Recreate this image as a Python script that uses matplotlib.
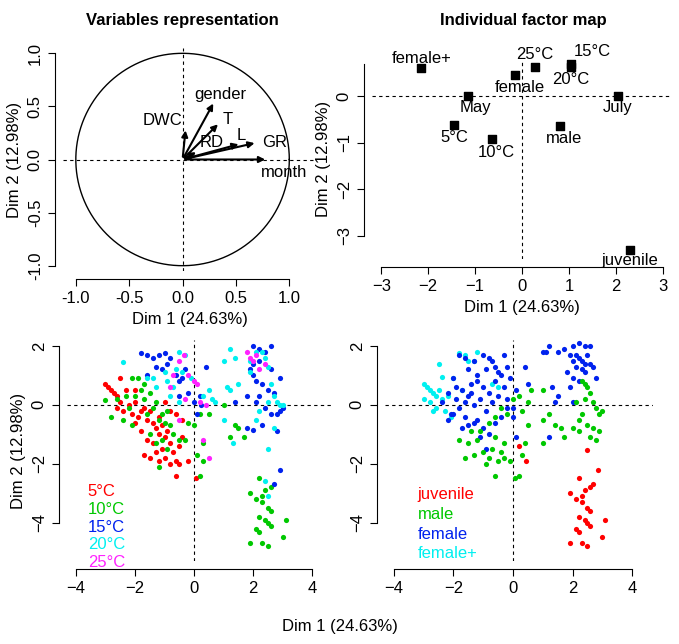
import matplotlib
matplotlib.use("Agg")
import matplotlib.pyplot as plt
import numpy as np

plt.rcParams['font.family'] = ['Liberation Sans', 'DejaVu Sans']

# ---- variables (correlation circle)
var_names = ["gender", "T", "DWC", "RD", "L", "GR", "month"]
var_x = [0.30, 0.35, 0.03, 0.15, 0.55, 0.70, 0.80]
var_y = [0.55, 0.35, 0.30, 0.08, 0.15, 0.16, 0.00]

# ---- category centres
cat_names = ["female+", "May", "5°C", "10°C", "female", "25°C", "15°C", "20°C", "male", "July", "juvenile"]
cat_x = [-2.15, -1.15, -1.45, -0.65, -0.15, 0.28, 1.05, 1.05, 0.80, 2.05, 2.30]
cat_y = [0.60, 0.00, -0.62, -0.92, 0.45, 0.62, 0.70, 0.62, -0.65, 0.00, -3.30]

# ---- individuals by temperature
t5 = [(-3,0.7),(-2.9,0.6),(-2.8,0.5),(-2.7,0.4),(-2.6,0.3),(-2.5,0.1),(-2.4,-0.2),(-2.2,0),(-2.1,-0.3),(-2,0.1),(-1.9,-0.4),(-1.8,-0.2),(-1.7,-0.1),(-1.6,-0.5),(-1.5,-0.2),(-1.4,-0.6),(-1.3,-0.8),(-1.2,-1),(-1.1,-0.7),(-1,-1.1),(-0.9,-0.9),(-0.8,-1.3),(-1.1,-1.5),(-1.3,-1.6),(-1.5,-1.8),(-1.7,-1.7),(-1.2,-1.9),(-1,-1.8),(-0.8,-2),(-0.6,-1.9),(-0.5,-2),(-0.6,-2.4),(-0.7,-1.6),(-0.5,-1.4),(-0.4,-1.1),(-0.4,-0.5),(-0.6,-0.3),(-0.8,-0.2),(-1.0,0.1),(-2.3,0.5),(-2.5,0.9),(-2.0,0.5),(-1.6,-1.2),(-1.4,-1.3),(-0.2,-1.9),(0.05,-2.5),(-2.6,-0.1),(-2.0,-0.6),(-1.8,-0.9),(-1.2,-0.4)]
t10 = [(-3,0.15),(-2.8,-0.4),(-2.6,0.2),(-2.4,-0.5),(-2.3,0.3),(-2.2,-0.1),(-2.1,-0.7),(-2,0.3),(-1.9,0.9),(-1.8,0.5),(-1.7,0.2),(-1.6,-0.3),(-1.5,0.4),(-1.4,-0.1),(-1.3,0.1),(-1.2,-0.5),(-1.1,-0.3),(-1,-0.6),(-0.9,-0.2),(-0.8,-0.7),(-1.5,-1.0),(-1.3,-1.3),(-1.1,-1.2),(-0.9,-1.5),(-0.7,-1.0),(-0.5,-1.2),(-0.3,-1.2),(-0.2,-0.6),(0,-0.7),(0.2,-0.3),(0.3,-1.3),(0.5,-0.3),(0.3,-1.9),(0.1,-1.7),(0.2,-2.4),(-1.2,-2.1),(-2.1,0.9),(-1.7,0.7),(1.4,-0.7),(1.5,-0.8),(1.7,-1.1),(1.2,-1.1),(1.0,0),(1.9,-3.0),(2.1,-3.2),(2.2,-2.5),(2.3,-3.1),(2.4,-2.9),(2.5,-3.5),(2.6,-2.8),(2.2,-3.8),(2.4,-3.9),(2.6,-4.1),(2.1,-4.2),(2.2,-4.3),(1.9,-4.7),(2.3,-4.7),(2.5,-4.8),(3.0,-4.5),(3.1,-3.9),(2.5,-4.0),(2.3,-3.3),(2.6,-3.6)]
t15 = [(-1.8,1.75),(-1.6,1.7),(-1.4,1.6),(-1.2,1.7),(-1.0,1.75),(-0.8,1.6),(-1.3,1.3),(-1.1,1.2),(-0.9,1.4),(-0.6,1.0),(-0.5,0.8),(-0.4,0.9),(-0.3,1.2),(-0.5,0.3),(-0.2,0.4),(0,0.1),(0.2,0.3),(0.4,1.3),(0.1,-0.3),(0.25,0),(-1.6,1.0),(2.0,2.0),(2.2,1.9),(2.4,1.8),(2.6,2.0),(1.9,1.2),(2.0,1.0),(2.1,0.8),(2.3,0.7),(2.5,0.5),(2.7,0.4),(2.9,0.9),(2.8,-0.3),(2.9,-0.2),(3.0,-0.1),(2.2,0.3),(2.4,-0.1),(2.6,-0.3),(1.8,-0.8),(2.0,-0.85),(2.3,-0.7),(2.8,-0.9),(2.1,0.1),(2.6,1.2),(2.2,1.5),(2.0,1.4),(1.4,0.1),(2.9,-2.2),(2.7,-2.7),(1.8,0.3)]
t20 = [(-2.4,1.45),(-1.6,0.9),(-1.4,0.9),(-1.0,1.1),(-0.9,0.8),(-0.7,0.6),(-0.5,1.8),(-0.3,1.7),(-0.6,1.2),(-0.4,1.1),(-0.8,0.3),(-0.5,0.1),(-1.3,0.6),(-0.1,0.9),(0.5,0.5),(0.6,0.2),(0.3,0.3),(1.2,1.9),(1.4,1.6),(1.0,1.5),(1.5,0.7),(1.1,0.6),(1.2,0.5),(1.9,1.1),(2.1,1.8),(2.3,1.8),(2.4,1.6),(2.5,1.3),(2.6,0.7),(2.7,0.3),(2.8,0.1),(2.9,0),(3.0,0.0),(2.5,0.1),(2.2,-0.2),(2.1,-0.5),(2.5,-1.5),(2.7,-0.8),(1.3,-1.3),(1.0,-0.5),(2.4,-2.6),(2.5,-3.1),(1.9,1.5),(0.7,0.1)]
t25 = [(-0.35,1.7),(-0.5,1.5),(-0.7,1.0),(-0.2,1.0),(0.0,0.8),(0.1,0.7),(0.2,0.1),(-0.3,0.2),(-0.5,-0.5),(0.3,-1.2),(0.5,-1.8),(-0.8,0.6),(1.8,1.8),(2.0,1.5),(1.9,1.6),(2.2,1.2),(2.4,1.4),(2.1,1.7),(0.4,0.0)]
temp_labels = ["5°C", "10°C", "15°C", "20°C", "25°C"]

# ---- individuals by sex
juvenile = [(1.9,-3.0),(2.1,-3.2),(2.2,-2.5),(2.3,-3.1),(2.4,-2.9),(2.5,-3.5),(2.6,-2.8),(2.2,-3.8),(2.4,-3.9),(2.6,-4.1),(2.1,-4.2),(2.2,-4.3),(1.9,-4.7),(2.3,-4.7),(2.5,-4.8),(3.0,-4.5),(3.1,-3.9),(2.5,-4.0),(2.3,-3.3),(2.6,-3.6),(0.2,-1.4),(0.45,-1.9),(2.5,-1.55),(2.85,-2.2),(2.7,-2.7)]
male = [(-1.6,-1.8),(-1.5,-1.3),(-1.3,-1.7),(-1.2,-1.2),(-1.0,-1.6),(-0.9,-2.0),(-0.8,-1.8),(-0.7,-1.5),(-0.6,-2.4),(-0.5,-1.9),(-0.4,-1.6),(-0.3,-1.8),(-0.6,-1.1),(-0.3,-1.3),(-0.1,-1.9),(0.05,-2.5),(0.2,-2.4),(0.3,-1.7),(0.4,-1.3),(0.5,-0.7),(0.3,-0.2),(0.5,0.1),(0.6,0.5),(0.2,0.3),(0,0.2),(-0.2,-0.3),(-0.4,-0.1),(-0.6,-0.4),(-0.8,-0.6),(-1.1,-0.9),(1.0,0.5),(1.0,-0.5),(1.2,-0.3),(1.4,-0.7),(1.6,-0.8),(1.7,-1.1),(2.0,-0.8),(2.2,-0.9),(2.5,-0.7),(2.7,-0.8),(2.9,-0.9),(2.8,-1.2),(2.6,-1.1),(2.1,0.1),(2.3,-0.3),(2.4,0.2),(2.5,0.6),(2.6,0.4),(2.7,0.1),(2.8,-0.1),(2.9,-0.3),(3.0,-0.2),(2.2,-0.5),(2.4,0.7),(2.3,0.8),(1.0,-1.3),(-1.4,-0.9),(-1.8,-1.2)]
female = [(-2.4,0.1),(-2.2,0.4),(-2.1,-0.3),(-2.0,0.9),(-1.9,0.2),(-1.8,-0.1),(-1.7,0.5),(-1.6,-0.4),(-1.5,0.3),(-1.4,0.7),(-1.3,0.0),(-1.2,-0.5),(-1.1,0.2),(-1.0,0.6),(-0.9,-0.2),(-0.8,0.4),(-0.7,0.1),(-0.6,0.8),(-0.5,0.3),(-0.4,1.0),(-0.3,0.6),(-0.2,0.2),(-0.1,0.9),(0.0,-0.1),(-1.8,1.7),(-1.6,1.6),(-1.3,1.5),(-1.0,1.7),(-0.8,1.6),(-0.6,1.3),(-0.3,1.7),(-0.2,1.3),(-1.5,1.2),(-1.2,1.0),(-0.9,1.2),(-1.7,-0.8),(-1.5,-0.7),(-1.3,-0.6),(-1.1,-1.1),(-1.0,-0.8),(-0.9,-1.5),(-0.8,-1.0),(-0.6,-0.6),(-2.2,-0.5),(-2.0,-0.3),(-1.9,0.6),(-1.4,0.4),(-1.2,0.8),(-0.7,1.5),(-0.5,1.1),(-0.4,-0.4),(0.1,-1.1),(0.0,-0.4),(1.0,1.8),(1.2,2.0),(1.5,1.8),(1.7,1.9),(2.0,2.0),(2.2,2.1),(2.4,2.0),(2.6,2.0),(1.9,1.7),(2.0,1.5),(2.1,1.3),(2.2,1.6),(2.3,1.5),(2.4,1.4),(2.5,1.7),(2.6,1.4),(2.7,1.3),(1.8,1.1),(2.0,0.9),(2.2,0.8),(2.4,1.1),(2.8,0.9),(2.1,1.7),(2.3,1.2),(1.9,0.6),(1.5,0.3),(1.3,0.6),(1.1,1.8),(1.4,0.1),(2.0,0.1),(1.2,-1.1),(0.5,0.7),(0.4,1.3),(0.1,0.5),(-1.6,0.1),(-0.2,-0.1)]
female_plus = [(-3.0,0.7),(-2.9,0.6),(-2.8,0.5),(-2.7,0.4),(-2.6,0.3),(-3.0,0.2),(-2.8,0.1),(-2.6,-0.1),(-2.5,0.5),(-2.4,0.2),(-2.3,-0.2),(-2.2,0.3),(-2.1,-0.4),(-2.5,1.4),(-2.4,0.95),(-2.0,0.9),(-1.8,1.75),(-1.6,1.7),(-1.5,1.5),(-1.3,1.5),(-1.2,1.8),(-2.7,-0.2),(-0.7,0.7),(-0.5,0.6),(-1.7,0.5)]
sex_labels = ["juvenile", "male", "female", "female+"]

RED, GREEN, BLUE, CYAN, MAG = "#ff0000", "#00c800", "#0022ee", "#00f0f0", "#ff22ff"
FS = 12
PS = 14

fig = plt.figure(figsize=(6.79, 6.44), dpi=100)
W, H = 679, 644
def axes_px(l, t, r, b):
    return fig.add_axes([l / W, 1 - b / H, (r - l) / W, (b - t) / H])

def style(ax, xb, yb, xt, yt, fmt=None):
    for s in ["top", "right"]:
        ax.spines[s].set_visible(False)
    ax.spines["bottom"].set_bounds(*xb)
    ax.spines["left"].set_bounds(*yb)
    ax.spines["bottom"].set_position(("outward", 6))
    ax.spines["left"].set_position(("outward", 6))
    ax.set_xticks(xt); ax.set_yticks(yt)
    if fmt:
        ax.set_xticklabels([fmt % v for v in xt]); ax.set_yticklabels([fmt % v for v in yt])
    ax.tick_params(labelsize=FS, length=5)
    for lab in ax.get_yticklabels():
        lab.set_rotation(90); lab.set_va("center")
    ax.patch.set_visible(False)

# Top-left
ax1 = axes_px(63, 48, 316, 271)
ax1.set_xlim(-1.12, 1.25); ax1.set_ylim(-1.05, 1.05)
th = np.linspace(0, 2 * np.pi, 400)
ax1.plot(np.cos(th), np.sin(th), color="black", lw=1)
ax1.axhline(0, ls=(0, (3, 3)), color="black", lw=0.8)
ax1.axvline(0, ls=(0, (3, 3)), color="black", lw=0.8)
for x, y in zip(var_x, var_y):
    ax1.annotate("", xy=(x, y), xytext=(0, 0),
                 arrowprops=dict(arrowstyle="-|>", color="black", lw=1.5, mutation_scale=9))
lab_off = {"gender": (0.05, 0.06, "center"), "T": (0.07, 0.03, "center"), "DWC": (-0.03, 0.07, "right"),
           "RD": (0.12, 0.08, "center"), "L": (0.0, 0.08, "center"), "GR": (0.05, 0.0, "left"),
           "month": (0.15, -0.12, "center")}
for n, x, y in zip(var_names, var_x, var_y):
    dx, dy, ha = lab_off[n]
    ax1.text(x + dx, y + dy, n, fontsize=FS, ha=ha, va="center")
style(ax1, (-1, 1), (-1, 1), [-1, -0.5, 0, 0.5, 1], [-1, -0.5, 0, 0.5, 1], "%.1f")
ax1.set_xlabel("Dim 1 (24.63%)", fontsize=FS)
ax1.set_ylabel("Dim 2 (12.98%)", fontsize=FS)

# Top-right
ax2 = axes_px(372, 59, 672, 259)
ax2.set_xlim(-3.2, 3.2); ax2.set_ylim(-3.5, 0.8)
ax2.axhline(0, ls=(0, (3, 3)), color="black", lw=0.8)
ax2.axvline(0, ls=(0, (3, 3)), color="black", lw=0.8)
ax2.scatter(cat_x, cat_y, marker="s", s=40, color="black", zorder=3)
coff = {"female+": (0, 0.22), "May": (0.15, -0.25), "5°C": (0, -0.27), "10°C": (0.1, -0.28),
        "female": (0.1, -0.27), "25°C": (0.0, 0.27), "15°C": (0.45, 0.27), "20°C": (0.0, -0.27),
        "male": (0.1, -0.25), "July": (0.0, -0.25), "juvenile": (0.0, -0.24)}
for n, x, y in zip(cat_names, cat_x, cat_y):
    dx, dy = coff[n]
    ax2.text(x + dx, y + dy, n, fontsize=FS, ha="center", va="center")
style(ax2, (-3, 3), (-3, 0.7), [-3, -2, -1, 0, 1, 2, 3], [-3, -2, -1, 0])
ax2.set_xlabel("Dim 1 (24.63%)", fontsize=FS)
ax2.set_ylabel("Dim 2 (12.98%)", fontsize=FS)

fig.text(182 / W, 1 - 20 / H, "Variables representation", fontsize=FS, fontweight="bold", ha="center", va="center")
fig.text(523 / W, 1 - 20 / H, "Individual factor map", fontsize=FS, fontweight="bold", ha="center", va="center")

# Bottom-left
ax3 = axes_px(67, 340, 333, 561)
ax3.set_xlim(-4.3, 4.7); ax3.set_ylim(-5.3, 2.2)
ax3.axhline(0, ls=(0, (3, 3)), color="black", lw=0.8)
ax3.axvline(0, ls=(0, (3, 3)), color="black", lw=0.8)
for pts, c in zip([t5, t10, t15, t20, t25], [RED, GREEN, BLUE, CYAN, MAG]):
    a = np.array(pts)
    ax3.scatter(a[:, 0], a[:, 1], s=PS, color=c, lw=0, zorder=3)
for i, (n, c) in enumerate(zip(temp_labels, [RED, GREEN, BLUE, CYAN, MAG])):
    ax3.text(-3.6, -2.95 - 0.6 * i, n, color=c, fontsize=FS, va="center")
style(ax3, (-4, 4), (-4, 2), [-4, -2, 0, 2, 4], [-4, -2, 0, 2])
ax3.set_ylabel("Dim 2 (12.98%)", fontsize=FS)

# Bottom-right
ax4 = axes_px(385, 340, 653, 561)
ax4.set_xlim(-4.3, 4.7); ax4.set_ylim(-5.3, 2.2)
ax4.axhline(0, ls=(0, (3, 3)), color="black", lw=0.8)
ax4.axvline(0, ls=(0, (3, 3)), color="black", lw=0.8)
for pts, c in zip([female_plus, female, male, juvenile], [CYAN, BLUE, GREEN, RED]):
    a = np.array(pts)
    ax4.scatter(a[:, 0], a[:, 1], s=PS, color=c, lw=0, zorder=3)
for i, (n, c) in enumerate(zip(sex_labels, [RED, GREEN, BLUE, CYAN])):
    ax4.text(-3.2, -3.05 - 0.67 * i, n, color=c, fontsize=FS, va="center")
style(ax4, (-4, 4), (-4, 2), [-4, -2, 0, 2, 4], [-4, -2, 0, 2])

fig.text(340 / W, 1 - 627 / H, "Dim 1 (24.63%)", fontsize=FS, ha="center", va="center")
fig.savefig("out.png", dpi=100)
